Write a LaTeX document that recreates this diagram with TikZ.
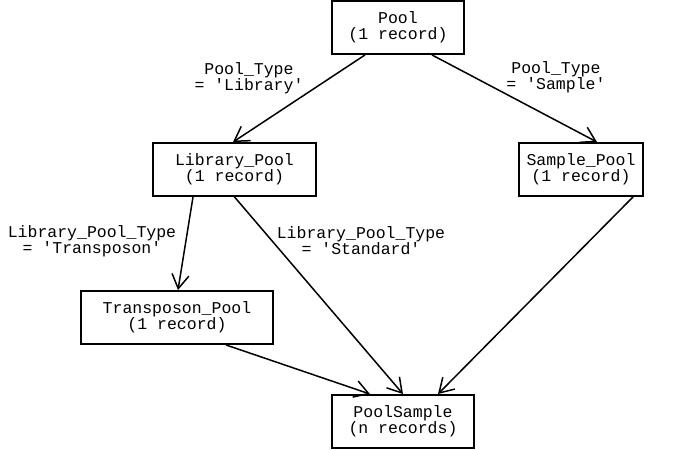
\documentclass[tikz,border=0pt]{standalone}
\usepackage{fontspec}
\newfontfamily\dbfont{Liberation Mono}
\usetikzlibrary{arrows.meta}

\begin{document}
\begin{tikzpicture}[x=1pt,y=-1pt,
		table/.style={draw,line width=1.9pt,minimum height=53pt,inner sep=0pt,align=center,font=\dbfont\fontsize{16.5}{16}\selectfont},
		cond/.style={align=center,font=\dbfont\fontsize{16.5}{16}\selectfont},
		link/.style={line width=1.5pt,->},
		>={Straight Barb[length=14pt,width=17pt]}]
		\useasboundingbox (0,0) rectangle (673,450);
		% tables
		\node[table,minimum width=132pt] (pool) at (398,27.5) {Pool\\(1 record)};
		\node[table,minimum width=163pt] (libpool) at (234.5,169.5) {Library\_Pool\\(1 record)};
		\node[table,minimum width=124pt] (samplepool) at (581,169.5) {Sample\_Pool\\(1 record)};
		\node[table,minimum width=192pt] (transpool) at (177,317.5) {Transposon\_Pool\\(1 record)};
		\node[table,minimum width=142pt] (poolsample) at (403,421.5) {PoolSample\\(n records)};
		% conditions
		\node[cond] (c1) at (249,78) {Pool\_Type\\= 'Library'};
		\node[cond] (c2) at (556,77) {Pool\_Type\\= 'Sample'};
		\node[cond] (c3) at (92,241) {Library\_Pool\_Type\\= 'Transposon'};
		\node[cond] (c4) at (361,241) {Library\_Pool\_Type\\= 'Standard'};
		% links
		\draw[link] ([xshift=-33pt]pool.south) -- ([xshift=-1.5pt]libpool.north);
		\draw[link] ([xshift=34pt]pool.south) -- ([xshift=16pt]samplepool.north);
		\draw[link] ([xshift=-41.5pt]libpool.south) -- ([xshift=1pt]transpool.north);
		\draw[link] (libpool.south) -- (poolsample.north);
		\draw[link] ([xshift=52pt]samplepool.south) -- ([xshift=35pt]poolsample.north);
		\draw[link] ([xshift=49pt]transpool.south) -- ([xshift=-33pt]poolsample.north);
	\end{tikzpicture}
\end{document}
